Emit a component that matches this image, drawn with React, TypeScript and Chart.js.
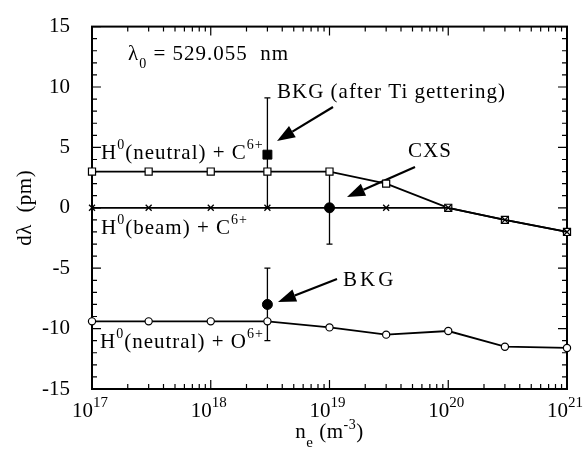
import React, { useEffect, useRef } from "react";
import { Chart, registerables } from "chart.js";

Chart.register(...registerables);

const FONT = '"Liberation Serif", "Times New Roman", serif';

// Data
const density = [1e17, 3e17, 1e18, 3e18, 1e19, 3e19, 1e20, 3e20, 1e21];
const neutralC = [3, 3, 3, 3, 3, 2, 0, -1, -2];
const beamC = [0, 0, 0, 0, 0, 0, 0, -1, -2];
const neutralO = [-9.4, -9.4, -9.4, -9.4, -9.9, -10.5, -10.2, -11.5, -11.6];

const bkgTiX = [3e18];
const bkgTiY = [4.4];
const bkgTiLow = [0];
const bkgTiHigh = [9.1];

const bkgX = [3e18];
const bkgY = [-8];
const bkgLow = [-11];
const bkgHigh = [-5];

const cxsX = [1e19];
const cxsY = [0];
const cxsLow = [-3];
const cxsHigh = [3];

const yTicks = [-15, -10, -5, 0, 5, 10, 15];
const xDecades = [17, 18, 19, 20, 21];

type Part = { t: string; size?: number; dy?: number };

function drawRich(
  ctx: CanvasRenderingContext2D,
  parts: Part[],
  x: number,
  y: number,
  align: "left" | "center" | "right" = "left",
  spacing = 1
) {
  (ctx as any).letterSpacing = `${spacing}px`;
  const widths = parts.map((p) => {
    ctx.font = `${p.size ?? 21}px ${FONT}`;
    return ctx.measureText(p.t).width;
  });
  const total = widths.reduce((a, b) => a + b, 0);
  let cx = align === "left" ? x : align === "center" ? x - total / 2 : x - total;
  ctx.textAlign = "left";
  ctx.textBaseline = "alphabetic";
  parts.forEach((p, i) => {
    ctx.font = `${p.size ?? 21}px ${FONT}`;
    ctx.fillText(p.t, cx, y + (p.dy ?? 0));
    cx += widths[i];
  });
  (ctx as any).letterSpacing = "0px";
}

function arrow(ctx: CanvasRenderingContext2D, x1: number, y1: number, x2: number, y2: number) {
  const ang = Math.atan2(y2 - y1, x2 - x1);
  const headLen = 18;
  const headW = 6.5;
  const bx = x2 - headLen * Math.cos(ang);
  const by = y2 - headLen * Math.sin(ang);
  ctx.beginPath();
  ctx.moveTo(x1, y1);
  ctx.lineTo(bx, by);
  ctx.lineWidth = 2.2;
  ctx.stroke();
  ctx.beginPath();
  ctx.moveTo(x2, y2);
  ctx.lineTo(bx + headW * Math.sin(ang), by - headW * Math.cos(ang));
  ctx.lineTo(bx - headW * Math.sin(ang), by + headW * Math.cos(ang));
  ctx.closePath();
  ctx.fill();
}

const framePlugin = {
  id: "frame",
  beforeDatasetsDraw(chart: any) {
    const ctx = chart.ctx as CanvasRenderingContext2D;
    const { left, right, top, bottom } = chart.chartArea;
    const xs = chart.scales.x;
    const ys = chart.scales.y;
    ctx.save();
    ctx.strokeStyle = "#000";
    ctx.fillStyle = "#000";
    ctx.lineWidth = 2;
    ctx.strokeRect(left, top, right - left, bottom - top);

    ctx.lineWidth = 1.2;
    ctx.beginPath();
    for (let v = -15; v <= 15; v += 1) {
      const py = ys.getPixelForValue(v);
      const len = v % 5 === 0 ? 9 : 5;
      ctx.moveTo(left, py);
      ctx.lineTo(left + len, py);
      ctx.moveTo(right, py);
      ctx.lineTo(right - len, py);
    }
    xDecades.forEach((d, idx) => {
      const base = Math.pow(10, d);
      const pxMaj = xs.getPixelForValue(base);
      ctx.moveTo(pxMaj, bottom);
      ctx.lineTo(pxMaj, bottom - 9);
      ctx.moveTo(pxMaj, top);
      ctx.lineTo(pxMaj, top + 9);
      if (idx < xDecades.length - 1) {
        for (let k = 2; k <= 9; k++) {
          const px = xs.getPixelForValue(k * base);
          ctx.moveTo(px, bottom);
          ctx.lineTo(px, bottom - 5);
          ctx.moveTo(px, top);
          ctx.lineTo(px, top + 5);
        }
      }
    });
    ctx.stroke();

    // x tick labels 10^n
    xDecades.forEach((d) => {
      const px = xs.getPixelForValue(Math.pow(10, d));
      ctx.font = `21px ${FONT}`;
      ctx.textAlign = "right";
      ctx.textBaseline = "alphabetic";
      ctx.fillText("10", px + 1, bottom + 28);
      ctx.font = `15px ${FONT}`;
      ctx.textAlign = "left";
      ctx.fillText(String(d), px + 1, bottom + 18);
    });

    // axis titles
    drawRich(
      ctx,
      [
        { t: "n" },
        { t: "e", size: 15, dy: 9 },
        { t: " (m" },
        { t: "-3", size: 14, dy: -9 },
        { t: ")" },
      ],
      (left + right) / 2,
      bottom + 49,
      "center",
      0.5
    );
    ctx.save();
    ctx.translate(31, (top + bottom) / 2);
    ctx.rotate(-Math.PI / 2);
    drawRich(ctx, [{ t: "d\u03bb  (pm)" }], 0, 0, "center", 0.5);
    ctx.restore();

    // annotations
    drawRich(
      ctx,
      [{ t: "\u03bb" }, { t: "0", size: 14, dy: 8 }, { t: " = 529.055  nm" }],
      128,
      60
    );
    drawRich(ctx, [{ t: "BKG (after Ti gettering)" }], 277, 98);
    drawRich(
      ctx,
      [{ t: "H" }, { t: "0", size: 14, dy: -10 }, { t: "(neutral) + C" }, { t: "6+", size: 14, dy: -10 }],
      101,
      159
    );
    drawRich(ctx, [{ t: "CXS" }], 408, 157);
    drawRich(
      ctx,
      [{ t: "H" }, { t: "0", size: 14, dy: -10 }, { t: "(beam) + C" }, { t: "6+", size: 14, dy: -10 }],
      101,
      234
    );
    drawRich(ctx, [{ t: "BKG" }], 343, 286, "left", 3);
    drawRich(
      ctx,
      [{ t: "H" }, { t: "0", size: 14, dy: -10 }, { t: "(neutral) + O" }, { t: "6+", size: 14, dy: -10 }],
      100,
      348
    );

    arrow(ctx, 333, 107, 277, 141);
    arrow(ctx, 415, 167, 347, 197);
    arrow(ctx, 337, 279, 278, 302);

    ctx.restore();
  },
};

const errorBarPlugin = {
  id: "errorBars",
  beforeDatasetsDraw(chart: any) {
    const ctx = chart.ctx as CanvasRenderingContext2D;
    const xs = chart.scales.x;
    const ys = chart.scales.y;
    ctx.save();
    ctx.strokeStyle = "#000";
    ctx.lineWidth = 1.3;
    chart.data.datasets.forEach((ds: any) => {
      if (!ds.errLow) return;
      ds.data.forEach((pt: any, i: number) => {
        const px = xs.getPixelForValue(pt.x);
        const lo = ys.getPixelForValue(ds.errLow[i]);
        const hi = ys.getPixelForValue(ds.errHigh[i]);
        ctx.beginPath();
        ctx.moveTo(px, lo);
        ctx.lineTo(px, hi);
        ctx.moveTo(px - 3, lo);
        ctx.lineTo(px + 3, lo);
        ctx.moveTo(px - 3, hi);
        ctx.lineTo(px + 3, hi);
        ctx.stroke();
      });
    });
    ctx.restore();
  },
};

export default function App() {
  const ref = useRef<HTMLCanvasElement | null>(null);

  useEffect(() => {
    document.body.style.margin = "0";
    const canvas = ref.current;
    if (!canvas) return;
    const toXY = (xs: number[], ys: number[]) => xs.map((x, i) => ({ x, y: ys[i] }));
    const chart = new Chart(canvas, {
      type: "line",
      data: {
        datasets: [
          {
            label: "BKG (after Ti gettering)",
            data: toXY(bkgTiX, bkgTiY),
            showLine: false,
            pointStyle: "rect",
            pointRadius: 6.3,
            pointBackgroundColor: "#000",
            pointBorderColor: "#000",
            pointBorderWidth: 1,
            order: 0,
            clip: false,
            errLow: bkgTiLow,
            errHigh: bkgTiHigh,
          } as any,
          {
            label: "BKG",
            data: toXY(bkgX, bkgY),
            showLine: false,
            pointStyle: "circle",
            pointRadius: 5,
            pointBackgroundColor: "#000",
            pointBorderColor: "#000",
            pointBorderWidth: 1,
            order: 0,
            clip: false,
            errLow: bkgLow,
            errHigh: bkgHigh,
          } as any,
          {
            label: "CXS",
            data: toXY(cxsX, cxsY),
            showLine: false,
            pointStyle: "circle",
            pointRadius: 5,
            pointBackgroundColor: "#000",
            pointBorderColor: "#000",
            pointBorderWidth: 1,
            order: 0,
            clip: false,
            errLow: cxsLow,
            errHigh: cxsHigh,
          } as any,
          {
            label: "H0(beam) + C6+",
            data: toXY(density, beamC),
            borderColor: "#000",
            borderWidth: 1.8,
            pointStyle: "crossRot",
            pointRadius: 4.2,
            pointBorderColor: "#000",
            pointBorderWidth: 1.3,
            tension: 0,
            order: 1,
            clip: false,
          } as any,
          {
            label: "H0(neutral) + C6+",
            data: toXY(density, neutralC),
            borderColor: "#000",
            borderWidth: 1.8,
            pointStyle: "rect",
            pointRadius: 5,
            pointBackgroundColor: "#fff",
            pointBorderColor: "#000",
            pointBorderWidth: 1.2,
            tension: 0,
            order: 2,
            clip: false,
          } as any,
          {
            label: "H0(neutral) + O6+",
            data: toXY(density, neutralO),
            borderColor: "#000",
            borderWidth: 1.8,
            pointStyle: "circle",
            pointRadius: 3.6,
            pointBackgroundColor: "#fff",
            pointBorderColor: "#000",
            pointBorderWidth: 1.2,
            tension: 0,
            order: 2,
            clip: false,
          } as any,
        ],
      },
      options: {
        animation: false,
        responsive: false,
        maintainAspectRatio: false,
        layout: { padding: { top: 17, right: 16, left: 0, bottom: 0 } },
        plugins: { legend: { display: false }, tooltip: { enabled: false } },
        scales: {
          x: {
            type: "logarithmic",
            min: 1e17,
            max: 1e21,
            grid: { display: false },
            border: { display: false },
            ticks: { display: false },
            afterFit: (s: any) => {
              s.height = 60;
            },
          },
          y: {
            type: "linear",
            min: -15,
            max: 15,
            grid: { display: false },
            border: { display: false },
            afterBuildTicks: (s: any) => {
              s.ticks = yTicks.map((v) => ({ value: v }));
            },
            ticks: {
              padding: 14,
              color: "#000",
              font: { family: FONT, size: 21 },
              callback: (v: any) => String(v),
            },
            afterFit: (s: any) => {
              s.width = 92;
            },
          },
        },
      },
      plugins: [framePlugin, errorBarPlugin],
    });
    return () => chart.destroy();
  }, []);

  return <canvas ref={ref} width={583} height={449} style={{ display: "block" }} />;
}
